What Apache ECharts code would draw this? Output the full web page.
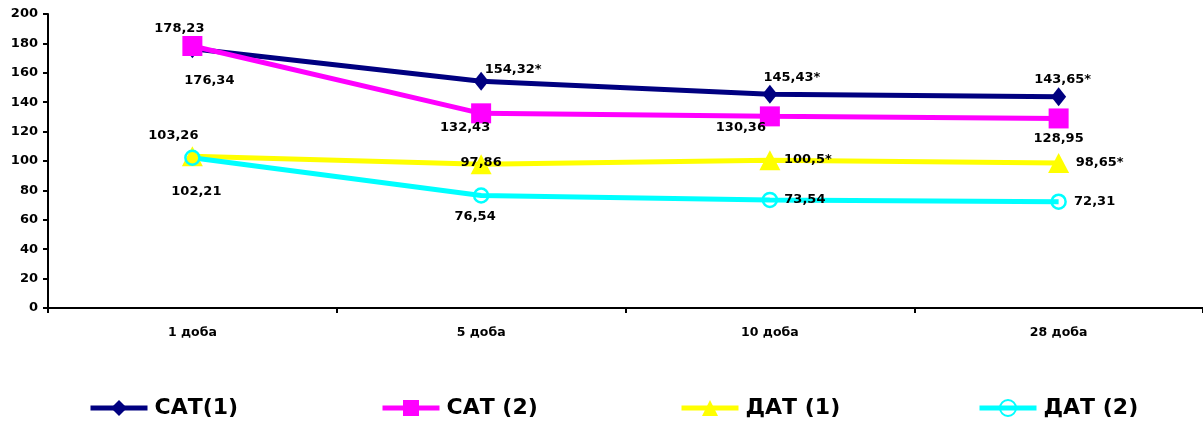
<!DOCTYPE html>
<html>
<head>
<meta charset="utf-8">
<script src="https://cdn.jsdelivr.net/npm/echarts@6/dist/echarts.min.js"></script>
<style>
  html, body { margin: 0; padding: 0; background: #fff; }
  #chart { width: 1203px; height: 421px; }
</style>
</head>
<body>
<div id="chart"></div>
<script>
// Days of observation
const categories = ['1 доба', '5 доба', '10 доба', '28 доба'];

// Systolic / diastolic pressure, groups 1 and 2
const sat1 = [176.34, 154.32, 145.43, 143.65];
const sat2 = [178.23, 132.43, 130.36, 128.95];
const dat1 = [103.26, 97.86, 100.5, 98.65];
const dat2 = [102.21, 76.54, 73.54, 72.31];

// Significance marks shown next to the values
const sat1Sig = [false, true, true, true];
const sat2Sig = [false, false, false, false];
const dat1Sig = [false, false, true, true];
const dat2Sig = [false, false, false, false];

const yTicks = { min: 0, max: 200, step: 20 };

const FONT = '"DejaVu Sans", Verdana, sans-serif';

function fmt(v, sig) {
  return String(v).replace('.', ',') + (sig ? '*' : '');
}

// label offsets (dx, dy) from each marker centre
function points(values, sig, offsets) {
  return values.map((v, i) => ({
    value: v,
    label: {
      show: true,
      position: 'inside',
      offset: offsets[i],
      formatter: fmt(v, sig[i])
    }
  }));
}

const labelStyle = {
  color: '#000',
  fontFamily: FONT,
  fontWeight: 'bold',
  fontSize: 13
};

function lineSeries(name, color, symbol, symbolSize, data, extraItem) {
  return {
    name: name,
    type: 'line',
    data: data,
    symbol: symbol,
    symbolSize: symbolSize,
    showAllSymbol: true,
    lineStyle: { color: color, width: 5 },
    itemStyle: Object.assign({ color: color }, extraItem || {}),
    label: labelStyle,
    emphasis: { disabled: true },
    animation: false
  };
}

const series = [
  lineSeries('САТ(1)', '#000080', 'diamond', [15, 19],
    points(sat1, sat1Sig, [[17, 32], [32, -12], [22, -17], [4, -17]])),
  lineSeries('САТ (2)', '#FF00FF', 'rect', 20,
    points(sat2, sat2Sig, [[-13, -17], [-16, 14], [-29, 11], [0, 20]])),
  lineSeries('ДАТ (1)', '#FFFF00', 'triangle', [21, 20],
    points(dat1, dat1Sig, [[-19, -21], [0, -2], [38, -1], [41, 0]])),
  lineSeries('ДАТ (2)', '#00FFFF', 'circle', 14,
    points(dat2, dat2Sig, [[4, 34], [-6, 21], [35, 0], [36, 0]]),
    { color: 'rgba(0,0,0,0)', borderColor: '#00FFFF', borderWidth: 2.5 })
];

const legendX = [88, 380, 679, 977];
const legends = series.map((s, i) => ({
  data: [s.name],
  left: legendX[i],
  top: 397,
  padding: 0,
  orient: 'horizontal',
  itemWidth: 57,
  itemHeight: 20,
  itemGap: 0,
  selectedMode: false,
  lineStyle: { width: 5 },
  textStyle: {
    color: '#000',
    fontFamily: FONT,
    fontWeight: 'bold',
    fontSize: 22,
    padding: [0, 0, 0, 2]
  }
}));

const chart = echarts.init(document.getElementById('chart'), null, { renderer: 'canvas' });
chart.setOption({
  backgroundColor: '#fff',
  animation: false,
  grid: { left: 48, right: 0, top: 14, bottom: 113, containLabel: false },
  legend: legends,
  xAxis: {
    type: 'category',
    data: categories,
    boundaryGap: true,
    axisLine: { lineStyle: { color: '#000', width: 2 } },
    axisTick: { show: true, alignWithLabel: false, length: 5, lineStyle: { color: '#000', width: 2 } },
    axisLabel: {
      color: '#000',
      fontFamily: FONT,
      fontWeight: 'bold',
      fontSize: 12.5,
      margin: 18
    },
    splitLine: { show: false }
  },
  yAxis: {
    type: 'value',
    min: yTicks.min,
    max: yTicks.max,
    interval: yTicks.step,
    axisLine: { show: true, lineStyle: { color: '#000', width: 2 } },
    axisTick: { show: true, length: 5, lineStyle: { color: '#000', width: 2 } },
    axisLabel: {
      color: '#000',
      fontFamily: FONT,
      fontWeight: 'bold',
      fontSize: 13,
      margin: 10
    },
    splitLine: { show: false }
  },
  series: series
});
</script>
</body>
</html>
